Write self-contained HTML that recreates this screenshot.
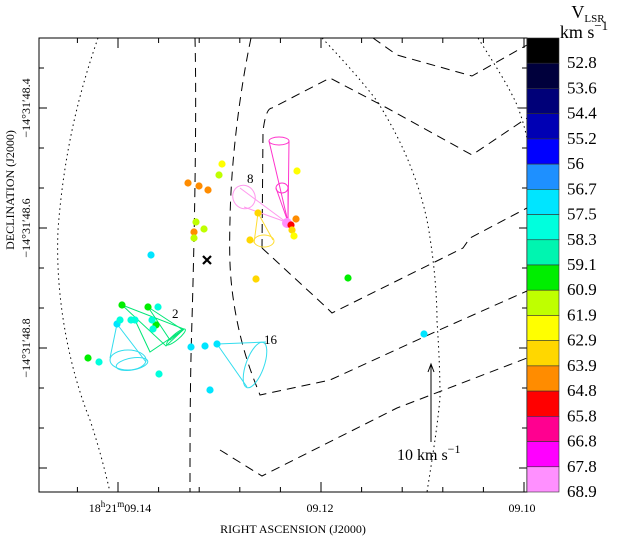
<!DOCTYPE html>
<html><head><meta charset="utf-8"><style>
body{margin:0;background:#fff;}
svg text{font-family:"Liberation Serif",serif;}
</style></head><body>
<svg id="c" width="624" height="539" viewBox="0 0 624 539" xmlns="http://www.w3.org/2000/svg">
<g id="contours" fill="none" stroke="#000" stroke-width="1">
<path d="M195,38 C197,120 194,250 192,320 C190,380 190,440 190,492" stroke-dasharray="9,6"/>
<path d="M251,38 C240,90 231,160 230,220 C229,260 230,280 235,310 C242,350 252,375 260,395 L330,380 L437,331 L527,291" stroke-dasharray="9,6"/>
<path d="M262,248 L263,131 C265,115 268,108 272,108 L330,78 L387,108 L472,155 L527,118" stroke-dasharray="9,6"/>
<path d="M262,248 L327,308 L332,313 L463,248 L470,238 L527,208" stroke-dasharray="9,6"/>
<path d="M373,38 L397,55 L472,76 L527,45" stroke-dasharray="9,6"/>
<path d="M220,450 L262,476 L397,408 L527,358" stroke-dasharray="9,6"/>
<path d="M98,38 C80,90 64,150 58,230 C55,300 70,370 90,420 C100,450 106,475 110,492" stroke-dasharray="1.5,3.5"/>
<path d="M322,38 C345,62 365,85 377,101 C392,125 402,145 410,165 C420,190 427,215 430,238 C435,270 437,300 437,321 C439,350 440,375 440,398 C437,430 432,460 427,492" stroke-dasharray="1.5,3.5"/>
<path d="M478,38 C495,65 508,85 517,105 C521,115 524,125 527,138" stroke-dasharray="1.5,3.5"/>
</g>
<g id="cones" fill="none" stroke-width="1">
<g stroke="#00e676">
<path d="M122,305 L184,329 L166,346 Z"/><path d="M148,307 L183,330 L170,340 Z"/>
<ellipse cx="176" cy="337" rx="12" ry="3" transform="rotate(-40 176 337)"/>
<path d="M135,320 L150,352 L184,329"/>
</g>
<g stroke="#33ddee">
<path d="M117,324 L110,358 M117,324 L146,362"/>
<ellipse cx="128" cy="360" rx="18" ry="10"/>
<ellipse cx="132" cy="364" rx="16" ry="6" transform="rotate(-10 132 364)"/>
</g>
<g stroke="#33ddee">
<path d="M217,344 L266,342 M217,344 L247,387"/>
<ellipse cx="255" cy="365" rx="9" ry="24" transform="rotate(20 255 365)"/>
</g>
<g stroke="#ff33cc">
<path d="M288,222 L269,141 M288,222 L289,141"/>
<ellipse cx="279" cy="141" rx="10" ry="4"/>
<path d="M288,222 L276,188 M288,222 L288,188"/>
<ellipse cx="282" cy="188" rx="6" ry="5"/>
</g>
<g stroke="#ff99ee">
<path d="M286,222 L240,188 M286,222 L244,207"/>
<ellipse cx="244" cy="197" rx="11" ry="12" transform="rotate(-30 244 197)"/>
</g>
<g stroke="#ffdd33">
<path d="M258,213 L254,243 M258,213 L273,240"/>
<ellipse cx="264" cy="241" rx="10" ry="6"/>
</g>
</g>
<g id="pts"></g>
<path d="M203,256 L211,264 M211,256 L203,264" stroke="#000" stroke-width="2.2"/>
<text x="172" y="318" font-size="13">2</text>
<text x="247" y="183" font-size="13">8</text>
<text x="264" y="344" font-size="13">16</text>
<path d="M431,442 L431,365 M428,372 L431,364 L434,372" stroke="#000" fill="none"/>
<text x="397" y="460" font-size="16">10 km s<tspan dy="-7" font-size="12">−1</tspan></text>
<rect x="39" y="38" width="488" height="454" fill="none" stroke="#000"/>
<g id="ticks" stroke="#000"></g>
<text x="30" y="108" font-size="12" text-anchor="middle" transform="rotate(-90 30 108)">−14°31′48.4</text>
<text x="30" y="228" font-size="12" text-anchor="middle" transform="rotate(-90 30 228)">−14°31′48.6</text>
<text x="30" y="348" font-size="12" text-anchor="middle" transform="rotate(-90 30 348)">−14°31′48.8</text>
<text x="14" y="190" font-size="12" text-anchor="middle" transform="rotate(-90 14 190)">DECLINATION (J2000)</text>
<text x="120" y="512" font-size="12" text-anchor="middle">18<tspan dy="-5" font-size="9">h</tspan><tspan dy="5">21</tspan><tspan dy="-5" font-size="9">m</tspan><tspan dy="5">09.14</tspan></text>
<text x="320" y="512" font-size="12" text-anchor="middle">09.12</text>
<text x="522" y="512" font-size="12" text-anchor="middle">09.10</text>
<text x="293" y="533" font-size="12" text-anchor="middle">RIGHT ASCENSION (J2000)</text>
<text x="588" y="18" font-size="18" text-anchor="middle">V<tspan dy="4" font-size="11">LSR</tspan></text>
<text x="584" y="38" font-size="18" text-anchor="middle">km s<tspan dy="-8" font-size="13">−1</tspan></text>
<g id="cbar"></g>
</svg>
<script>
const cbColors=["#000000","#00003c","#000078","#0000b4","#0000ff","#1e90ff","#00e5ff","#00ffdd","#00f5b0","#00ee00","#bfff00","#ffff00","#ffd700","#ff8c00","#ff0000","#ff0090","#ff00ff","#ff90ff"];
const cbLabels=["52.8","53.6","54.4","55.2","56","56.7","57.5","58.3","59.1","60.9","61.9","62.9","63.9","64.8","65.8","66.8","67.8","68.9"];
const px=[222,219,188,199,208,297,196,204,194,194,258,250,287,296,291,292,294,256,348,122,148,156,158,88,99,117,120,131,135,152,153,159,191,205,217,210,151,424];
const py=[164,175,183,186,190,171,222,229,232,238,213,240,223,219,225,230,236,279,278,305,307,325,307,358,362,324,320,320,320,320,329,374,347,346,344,390,255,334];
const pv=[62.9,61.9,64.8,64.8,64.8,62.9,61.9,61.9,64.8,61.9,63.9,63.9,68.9,64.8,65.8,63.9,62.9,63.9,60.9,60.9,60.9,60.9,58.3,60.9,58.3,57.5,58.3,58.3,58.3,58.3,58.3,58.3,57.5,57.5,57.5,57.5,57.5,57.5];
const NS="http://www.w3.org/2000/svg";
function vColor(v){let i=cbLabels.findIndex(l=>Math.abs(parseFloat(l)-v)<0.05);return i>=0?cbColors[i]:"#888";}
const ptsG=document.getElementById('pts');
for(let i=0;i<px.length;i++){const c=document.createElementNS(NS,'circle');c.setAttribute('cx',px[i]);c.setAttribute('cy',py[i]);c.setAttribute('r',pv[i]>68?5:3.6);c.setAttribute('fill',vColor(pv[i]));


ptsG.appendChild(c);}
const cbG=document.getElementById('cbar');const cbTop=38,cbBot=492,nBox=18,boxH=(cbBot-cbTop)/nBox;
for(let i=0;i<nBox;i++){const r=document.createElementNS(NS,'rect');r.setAttribute('x',527);r.setAttribute('y',cbTop+i*boxH);r.setAttribute('width',32);r.setAttribute('height',boxH);r.setAttribute('fill',cbColors[i]);r.setAttribute('stroke','#333');r.setAttribute('stroke-width','0.6');


cbG.appendChild(r);
const t=document.createElementNS(NS,'text');t.setAttribute('x',567);t.setAttribute('y',cbTop+(i+1)*boxH+5);t.setAttribute('font-size','17');t.textContent=cbLabels[i];


cbG.appendChild(t);}
const tkG=document.getElementById('ticks');
function line(x1,y1,x2,y2){const l=document.createElementNS(NS,'line');l.setAttribute('x1',x1);l.setAttribute('y1',y1);l.setAttribute('x2',x2);l.setAttribute('y2',y2);


tkG.appendChild(l);}
for(let k=-3;k<=12;k++){const y=108+k*40;if(y<=38||y>=492)continue;const major=(k%3===0);line(39,y,major?47:44,y);line(527,y,major?519:522,y);}
for(let k=-4;k<=10;k++){const x=118+k*40.6;if(x<=39||x>=527)continue;const major=(k%5===0);line(x,492,x,major?482:487);line(x,38,x,major?48:43);}
</script>
</body></html>
